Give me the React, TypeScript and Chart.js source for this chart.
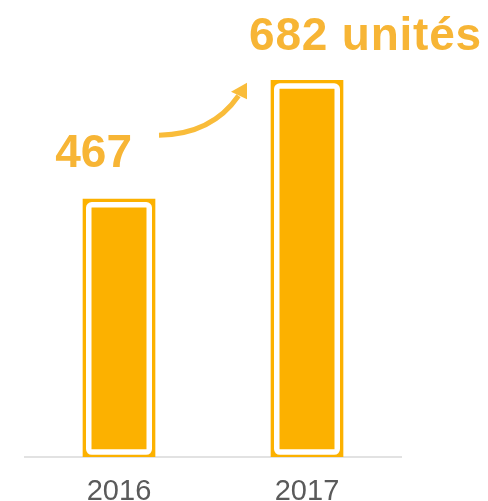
import React, { useEffect, useRef } from "react";
import { Chart, registerables } from "chart.js";

Chart.register(...registerables);

const categories = ["2016", "2017"];
const values = [467, 682];
const valueLabels = ["467", "682 unités"];

const BAR_COLOR = "#FCB100";
const TEXT_COLOR = "#F7B535";
const ARROW_COLOR = "#F9BC3A";
const TICK_COLOR = "#5a5a5a";
const FONT = '"Liberation Sans", Arial, sans-serif';

const decorPlugin = {
  id: "decor",
  afterDatasetsDraw(chart: any) {
    const ctx = chart.ctx;
    const meta = chart.getDatasetMeta(0);
    ctx.save();
    meta.data.forEach((el: any) => {
      const { x, y, base, width } = el.getProps(["x", "y", "base", "width"], true);
      const l = x - width / 2;
      ctx.strokeStyle = "#ffffff";
      ctx.lineWidth = 5.5;
      ctx.beginPath();
      const top = y + 5.8;
      const bottom = base - 5;
      ctx.roundRect(l + 5.75, top, width - 11.5, bottom - top, 3);
      ctx.stroke();
    });
    ctx.restore();
  },
  afterDraw(chart: any) {
    const ctx = chart.ctx;
    const meta = chart.getDatasetMeta(0);
    const b1 = meta.data[0].getProps(["x", "y"], true);
    const b2 = meta.data[1].getProps(["x", "y"], true);
    ctx.save();
    // value labels
    ctx.fillStyle = TEXT_COLOR;
    ctx.font = `bold 46px ${FONT}`;
    ctx.textBaseline = "alphabetic";
    ctx.textAlign = "right";
    ctx.fillText(valueLabels[0], b1.x + 13, b1.y - 32);
    ctx.textAlign = "left";
    (ctx as any).letterSpacing = "0.8px";
    ctx.fillText(valueLabels[1], b2.x - 58, b2.y - 30.3);
    (ctx as any).letterSpacing = "0px";
    // arrow
    ctx.strokeStyle = ARROW_COLOR;
    ctx.fillStyle = ARROW_COLOR;
    ctx.lineWidth = 5;
    ctx.lineCap = "butt";
    ctx.beginPath();
    ctx.moveTo(b1.x + 40, b2.y + 55);
    ctx.quadraticCurveTo(b1.x + 93, b2.y + 54, b2.x - 68.5, b2.y + 15.5);
    ctx.stroke();
    ctx.beginPath();
    ctx.moveTo(b2.x - 60, b2.y + 2.5);
    ctx.lineTo(b2.x - 76, b2.y + 11.5);
    ctx.lineTo(b2.x - 60, b2.y + 19);
    ctx.closePath();
    ctx.fill();
    ctx.restore();
  },
};

export default function App() {
  const canvasRef = useRef<HTMLCanvasElement | null>(null);

  useEffect(() => {
    if (!canvasRef.current) return;
    const chart = new Chart(canvasRef.current, {
      type: "bar",
      data: {
        labels: categories,
        datasets: [
          {
            data: values,
            backgroundColor: BAR_COLOR,
            borderWidth: 0,
            barThickness: 72,
          },
        ],
      },
      options: {
        responsive: false,
        maintainAspectRatio: false,
        animation: false,
        devicePixelRatio: 1,
        layout: { padding: { top: 15, left: 25, right: 87, bottom: -25 } },
        plugins: {
          legend: { display: false },
          tooltip: { enabled: false },
        },
        scales: {
          x: {
            grid: { display: false, drawTicks: false },
            border: { display: true, color: "#e2e2e2", width: 2 },
            ticks: {
              color: TICK_COLOR,
              padding: 24,
              font: { family: FONT, size: 29, lineHeight: 0.72 },
            },
          },
          y: {
            display: false,
            min: 0,
            max: 800,
          },
        },
      },
      plugins: [decorPlugin],
    });
    return () => chart.destroy();
  }, []);

  return (
    <div style={{ position: "absolute", left: 0, top: 0, width: 488, height: 501, background: "#fff" }}>
      <canvas ref={canvasRef} width={488} height={501} style={{ display: "block" }} />
    </div>
  );
}
